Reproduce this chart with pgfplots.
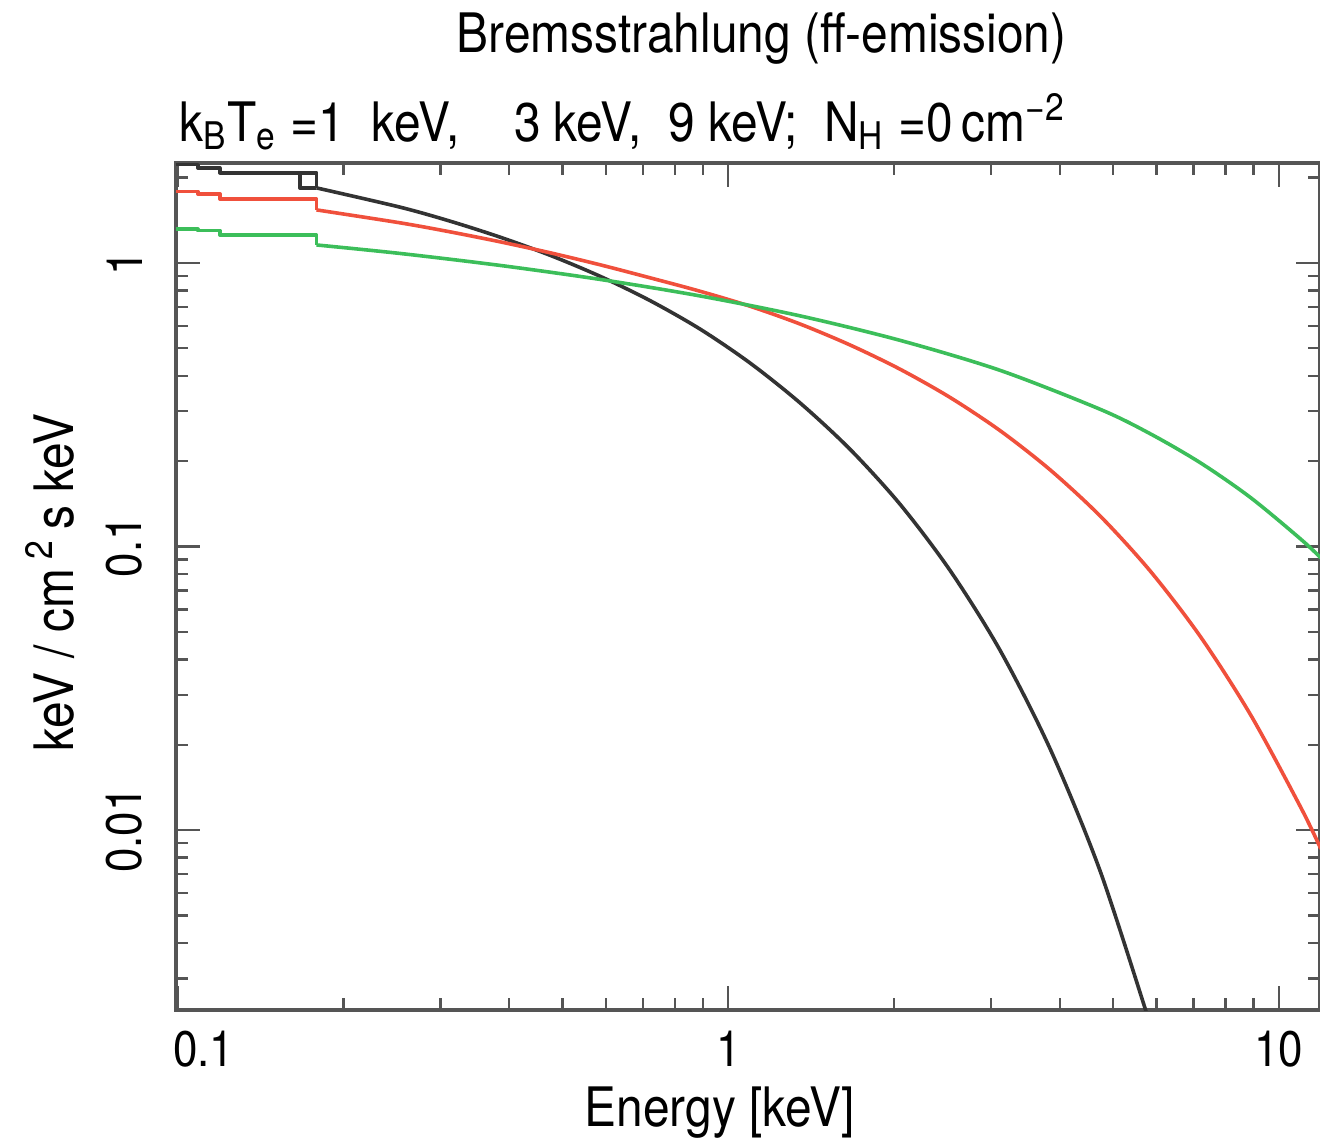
\documentclass[border=0pt]{standalone}
\usepackage{fontspec}
\setmainfont{TeX Gyre Heros}[FakeStretch=0.88]
\usepackage{pgfplots}
\pgfplotsset{compat=1.18}
\definecolor{brblack}{HTML}{333333}
\definecolor{brred}{HTML}{F0503C}
\definecolor{brgreen}{HTML}{3CBE5A}
\definecolor{axgray}{HTML}{555555}

\begin{document}
\begin{tikzpicture}
\useasboundingbox (0,0) rectangle (330pt,285pt);
\begin{axis}[
  at={(44pt,32.5pt)}, anchor=south west,
  scale only axis, width=286pt, height=211.75pt,
  xmode=log, ymode=log,
  xmin=0.0993, xmax=11.88, ymin=0.00232, ymax=2.25,
  xtick={0.1,1,10}, xticklabels={\hspace*{13pt}0.1,1,10},
  minor xtick={0.2,0.3,0.4,0.5,0.6,0.7,0.8,0.9,2,3,4,5,6,7,8,9},
  ytick={0.01,0.1,1}, yticklabels={0.01,0.1,1},
  minor ytick={0.003,0.004,0.005,0.006,0.007,0.008,0.009,
    0.02,0.03,0.04,0.05,0.06,0.07,0.08,0.09,
    0.2,0.3,0.4,0.5,0.6,0.7,0.8,0.9,2},
  tick align=inside, major tick length=6pt, minor tick length=3pt,
  every tick/.style={axgray, line width=0.6pt},
  axis line style={axgray, line width=0.8pt},
  /pgf/number format/assume math mode=true,
  tick label style={font=\fontsize{12.5}{14}\selectfont, inner sep=0pt},
  xticklabel style={anchor=north, yshift=-5pt},
  yticklabel style={xshift=-8.25pt, rotate=90, anchor=south},
  label style={font=\fontsize{13.6}{16}\selectfont},
  xlabel={Energy [keV]},
  xlabel style={at={(axis description cs:0.4755,-0.137)}, anchor=base},
  ylabel={keV / cm\,\textsuperscript{2}\,s keV},
  ylabel style={at={(axis description cs:-0.090,0.505)}, anchor=base, rotate=0},
  clip mode=individual,
  every axis plot/.append style={line width=0.9pt, line join=round, no markers},
]
% kT = 1 keV: low-energy steps, then the continuum
\addplot[brblack] coordinates {
  (0.0993,2.22) (0.1088,2.22) (0.1088,2.16) (0.1193,2.16) (0.1193,2.08)
  (0.1787,2.08) (0.1787,1.839)};
\addplot[brblack] coordinates {(0.1667,2.08) (0.1667,1.839) (0.1787,1.839)};
\addplot[brblack, smooth] coordinates {
  (0.1787,1.839) (0.2533,1.573) (0.3123,1.404) (0.3850,1.233) (0.4746,1.064)
  (0.5853,0.8969) (0.7213,0.7362) (0.8894,0.5840) (1.0965,0.4431) (1.3521,0.3202)
  (1.6668,0.2196) (2.0547,0.1404) (2.5329,0.08195) (3.1224,0.04280)
  (3.8503,0.01919) (4.7465,0.007096) (5.8518,0.002035)};
% kT = 3 keV
\addplot[brred] coordinates {
  (0.0993,1.784) (0.1088,1.784) (0.1088,1.751) (0.1193,1.751) (0.1193,1.682)
  (0.1787,1.682) (0.1787,1.538)};
\addplot[brred, smooth] coordinates {
  (0.1787,1.538) (0.2533,1.385) (0.3123,1.287) (0.3850,1.187) (0.4746,1.086)
  (0.5853,0.9847) (0.7213,0.8860) (0.8894,0.7943) (1.0965,0.7030) (1.3521,0.6083)
  (1.6668,0.5129) (2.0547,0.4212) (2.5329,0.3348) (3.1224,0.2556) (3.8503,0.1858)
  (4.7465,0.1276) (5.8518,0.08160) (7.215,0.04794) (8.893,0.02544)
  (10.965,0.01201) (11.92,0.00859)};
% kT = 9 keV
\addplot[brgreen] coordinates {
  (0.0993,1.315) (0.1088,1.315) (0.1088,1.30) (0.1193,1.30) (0.1193,1.255)
  (0.1787,1.255) (0.1787,1.157)};
\addplot[brgreen, smooth] coordinates {
  (0.1787,1.157) (0.2533,1.080) (0.3850,0.9799) (0.5853,0.8745) (0.8894,0.7647)
  (1.3521,0.6502) (2.0547,0.5328) (3.1224,0.4175) (4.7465,0.3042) (5.8518,0.2493)
  (7.215,0.1970) (8.893,0.1486) (10.965,0.1061) (11.92,0.0912)};
\node[anchor=base, font=\fontsize{13.6}{16}\selectfont]
  at (axis description cs:0.512,1.131) {Bremsstrahlung (ff-emission)};
\node[anchor=base west, inner sep=0pt, font=\fontsize{13.6}{16}\selectfont]
  at (axis description cs:0.002,1.026)
  {k\textsubscript{B}T\textsubscript{e} =1~ keV,\quad 3 keV,~ 9 keV;~ N\textsubscript{H} =0\,cm\textsuperscript{−2}};
\end{axis}
\end{tikzpicture}
\end{document}
